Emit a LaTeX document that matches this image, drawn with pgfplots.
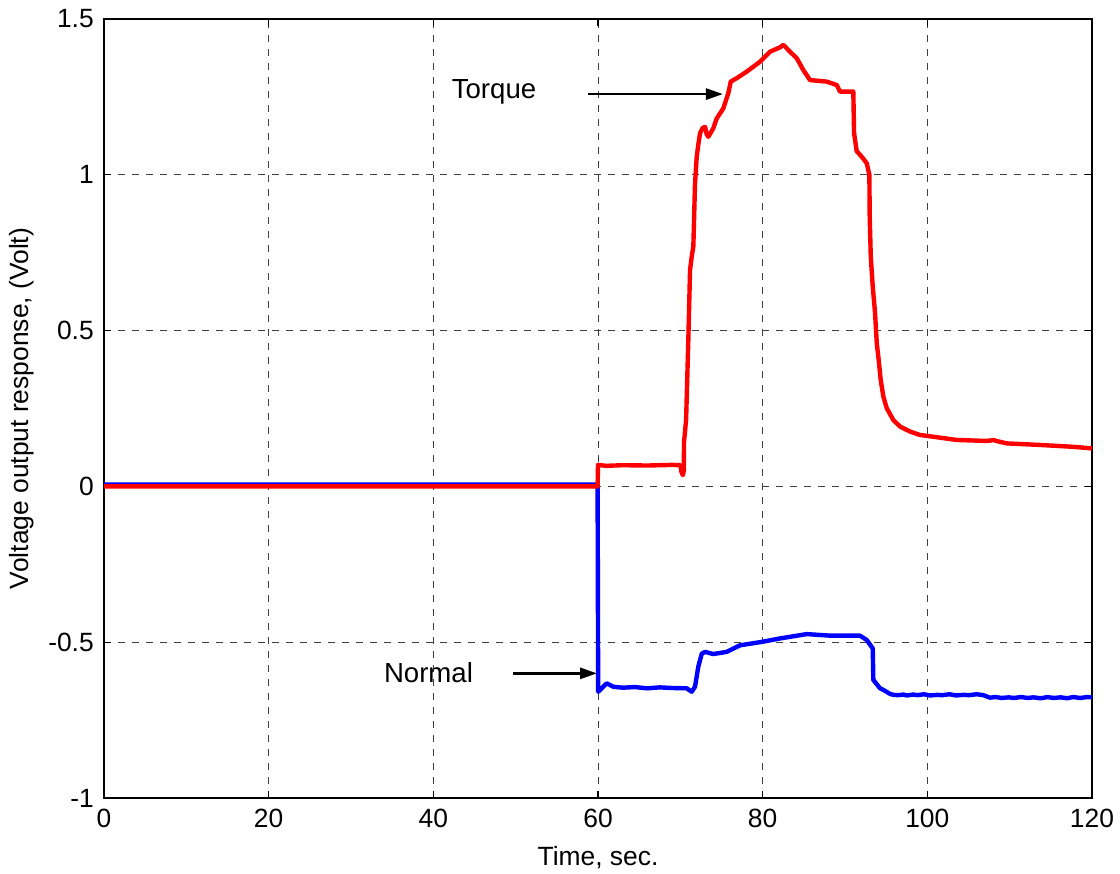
\documentclass[border=0pt]{standalone}
\usepackage{pgfplots}
\pgfplotsset{compat=1.18}
\usepackage{fontspec}
\setmainfont{Liberation Sans}
\usetikzlibrary{arrows.meta}
\newcommand{\fs}{\fontsize{13.2bp}{15bp}\selectfont}
\newcommand{\fa}{\fontsize{13.8bp}{16bp}\selectfont}
\begin{document}
\begin{tikzpicture}
\begin{axis}[
  scale only axis,
  width=494bp, height=389.5bp,
  xmin=0, xmax=120, ymin=-1, ymax=1.5,
  xtick={0,20,40,60,80,100,120},
  xticklabels={0,20,40,60,80,100,120},
  ytick={-1,-0.5,0,0.5,1,1.5},
  yticklabels={-1,-0.5,0,0.5,1,1.5},
  tick align=inside,
  major tick length=3.5bp,
  tick style={black, line width=0.6bp},
  axis line style={black, line width=0.7bp},
  grid=major,
  major grid style={dash pattern=on 3.5bp off 3.5bp, black!75, line width=0.5bp},
  xticklabel style={font=\fs, yshift=-2bp},
  yticklabel style={font=\fs, xshift=-1.6bp},
  xlabel={Time, sec.},
  ylabel={Voltage output response, (Volt)},
  xlabel style={font=\fs, at={([yshift=-30bp]axis description cs:0.5,0)}, anchor=center},
  ylabel style={font=\fs, at={([xshift=-41bp]axis description cs:0,0.5)}, anchor=center},
  clip=true,
]
\coordinate (SW) at (rel axis cs:0,0);
\coordinate (NE) at (rel axis cs:1,1);
% Normal (blue)
\addplot[blue, line width=2.2bp, line join=round] coordinates {
(0,0.006) (30,0.006) (59.95,0.006) (60.02,-0.659) (60.45,-0.648) (61.06,-0.632) (61.86,-0.643)
(63,-0.646) (64.5,-0.644) (65.92,-0.648) (67.5,-0.645) (69,-0.647) (70.77,-0.648) (71.38,-0.659)
(71.78,-0.643) (72.18,-0.579) (72.6,-0.537) (73.0,-0.531) (74.0,-0.538) (75.63,-0.531)
(77.25,-0.510) (79.89,-0.499) (82.1,-0.488) (85.35,-0.474) (88.18,-0.479) (91.82,-0.479)
(92.64,-0.493) (93.37,-0.520) (93.44,-0.621) (94.26,-0.648) (94.66,-0.653) (95.47,-0.666)
(95.87,-0.669) (96.48,-0.670) (97.1,-0.668) (97.5,-0.671) (98.3,-0.668) (98.8,-0.670)
(99.6,-0.667) (100.3,-0.671) (101.2,-0.669) (101.8,-0.670) (102.7,-0.667) (103.5,-0.671)
(104.4,-0.669) (105.1,-0.670) (106.0,-0.667) (106.8,-0.670) (107.6,-0.678) (108.3,-0.676)
(109.0,-0.679) (109.9,-0.677) (110.5,-0.679) (111.4,-0.676) (112.2,-0.679) (112.9,-0.677)
(113.8,-0.680) (114.6,-0.676) (115.3,-0.679) (116.2,-0.677) (117.0,-0.680) (117.7,-0.676)
(118.6,-0.679) (119.4,-0.676) (120,-0.677)
};
% Torque (red)
\addplot[red, line width=2.2bp, line join=round] coordinates {
(0,0) (30,0) (59.95,0) (60.0,0.069) (61,0.066) (63,0.068) (66,0.067) (69,0.069) (70.0,0.068)
(70.15,0.045) (70.3,0.036) (70.42,0.05) (70.45,0.143) (70.7,0.213) (70.97,0.47) (71.18,0.695)
(71.38,0.737) (71.58,0.77) (71.78,0.97) (71.99,1.058) (72.2,1.10) (72.39,1.133) (72.7,1.15)
(73.0,1.154) (73.2,1.13) (73.4,1.122) (74.0,1.149) (74.42,1.181) (75.22,1.213) (75.83,1.262)
(76.12,1.299) (76.85,1.31) (78.06,1.331) (79.68,1.363) (80.89,1.395) (82.1,1.409) (82.51,1.417)
(83.32,1.395) (84.14,1.374) (84.94,1.336) (85.75,1.304) (87.78,1.299) (89.0,1.288) (89.39,1.267)
(91.01,1.267) (91.1,1.134) (91.42,1.076) (92.03,1.058) (92.64,1.037) (92.96,1.00) (93.0,0.866)
(93.13,0.737) (93.37,0.641) (93.65,0.556) (93.86,0.459) (94.05,0.416) (94.34,0.341) (94.66,0.288)
(95.07,0.251) (95.87,0.213) (96.68,0.192) (97.9,0.176) (99.11,0.165) (100,0.162) (103.57,0.149)
(107.0,0.146) (107.62,0.147) (108,0.149) (108.5,0.145) (109.65,0.138) (113.69,0.133)
(117.73,0.127) (120,0.122)
};
\node[font=\fa] at (axis cs:47.37,1.266) {Torque};
\draw[black, line width=1.4bp, -{Triangle[length=8.5bp,width=5.5bp]}] (axis cs:58.8,1.259) -- (axis cs:75.18,1.259);
\node[font=\fa] at (axis cs:39.41,-0.599) {Normal};
\draw[black, line width=1.4bp, -{Triangle[length=8.5bp,width=5.5bp]}] (axis cs:49.68,-0.600) -- (axis cs:59.88,-0.600);
\end{axis}
\pgfresetboundingbox
\path[use as bounding box] ([xshift=-52bp,yshift=-38bp]SW) rectangle ([xshift=14bp,yshift=9.5bp]NE);
\end{tikzpicture}
\end{document}
